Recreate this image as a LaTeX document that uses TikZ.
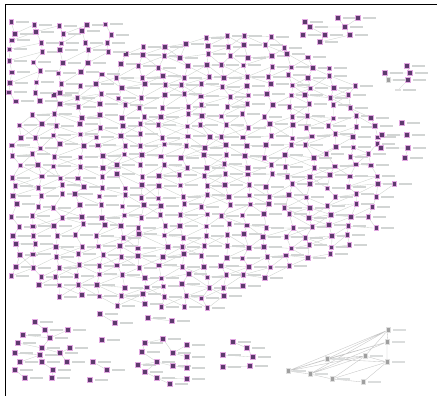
\documentclass[tikz,border=0pt]{standalone}
\definecolor{npurple}{HTML}{5E3A6E}
\definecolor{nhalo}{HTML}{E2A8E2}
\definecolor{egray}{HTML}{CDD2CD}
\definecolor{lgray}{HTML}{D2D5D4}
\pgfdeclarelayer{bg}
\pgfsetlayers{bg,main}
\tikzset{
  gnode/.style={rectangle, inner sep=0pt, minimum width=4.4pt, minimum height=4.8pt, fill=npurple, draw=nhalo, line width=0.8pt},
  grnode/.style={rectangle, inner sep=0pt, minimum width=4pt, minimum height=4.4pt, fill=gray!75, draw=gray!25, line width=0.8pt},
  lbl/.style={rectangle, fill=lgray, inner sep=0pt, minimum width=13pt, minimum height=2pt, anchor=west},
  edge/.style={draw=egray, line width=0.35pt},
}
\def\mainrows{36/9/12, 46/6/13, 56/5/14, 66/5/15, 76/4/15, 86/3/16, 96/2/16, 106/2/16, 116/1/17, 126/0/17,
  136/0/17, 146/0/17, 156/0/17, 166/0/17, 176/0/17, 186/0/18, 196/0/17, 206/0/17, 216/0/17,
  226/0/17, 236/0/16, 246/0/16, 256/0/15, 266/0/13, 276/0/12, 286/1/11, 296/2/10, 306/5/9}
\def\tlrows{24/0/4, 33/0/4, 42/0/4, 51/0/4, 61/0/3, 72/0/3, 83/0/2, 93/0/2, 103/0/1}
\begin{document}
\begin{tikzpicture}[x=1pt,y=-1pt]
\pgfmathsetseed{4242}
\useasboundingbox (0,0) rectangle (437,396);
\draw[line width=1pt] (5,396) -- (5,5) -- (437,5);
% main blob nodes
\foreach \yy/\a/\b [count=\r] in \mainrows {
  \foreach \c in {\a,...,\b}{
    \pgfmathsetmacro\xx{16+\c*21+5*rand}
    \pgfmathsetmacro\yj{\yy+2.5*rand}
    \node[gnode] (m-\r-\c) at (\xx,\yj) {};
    \node[lbl] at ([xshift=2pt]m-\r-\c.east) {};
  }
}
% top-left cluster nodes
\foreach \yy/\a/\b [count=\r] in \tlrows {
  \foreach \c in {\a,...,\b}{
    \pgfmathsetmacro\xx{14+\c*24+5*rand}
    \pgfmathsetmacro\yj{\yy+2*rand}
    \node[gnode] (t-\r-\c) at (\xx,\yj) {};
    \node[lbl] at ([xshift=2pt]t-\r-\c.east) {};
  }
}
% top-right cluster
\foreach \x/\y [count=\i] in {305/22, 338/18, 358/18, 310/27, 345/27, 303/35, 325/35, 350/35, 320/42}{
  \node[gnode] (q-\i) at (\x,\y) {};
  \node[lbl] at ([xshift=2pt]q-\i.east) {};
}
% far right cluster
\foreach \x/\y [count=\i] in {407/66, 385/73, 410/73, 408/80}{
  \node[gnode] (f-\i) at (\x,\y) {};
  \node[lbl] at ([xshift=2pt]f-\i.east) {};
}
\node[grnode] (f-5) at (388,80) {};
\node[lbl] at ([xshift=2pt]f-5.east) {};
\node[grnode, minimum width=5pt, minimum height=1.5pt] (f-6) at (398,90) {};
\node[lbl] at ([xshift=2pt]f-6.east) {};
% right scattered
\foreach \x/\y [count=\i] in {402/123, 382/135, 407/135, 381/148, 408/148, 405/158}{
  \node[gnode] (s-\i) at (\x,\y) {};
  \node[lbl] at ([xshift=2pt]s-\i.east) {};
}
% bottom-left cluster
\foreach \x/\y [count=\i] in {35/322, 45/330, 68/330, 23/335, 50/338, 18/343, 42/348, 70/348, 60/353,
  15/353, 40/355, 20/362, 42/362, 67/362, 15/370, 53/370, 25/378, 52/378}{
  \node[gnode] (b-\i) at (\x,\y) {};
  \node[lbl] at ([xshift=2pt]b-\i.east) {};
}
% bottom middle cluster 1
\foreach \x/\y [count=\i] in {100/314, 115/323, 102/340, 93/362, 107/370, 90/380}{
  \node[gnode] (c-\i) at (\x,\y) {};
  \node[lbl] at ([xshift=2pt]c-\i.east) {};
}
% bottom middle cluster 2
\foreach \x/\y [count=\i] in {148/318, 172/321, 163/339, 145/343, 142/352, 173/353, 187/345, 187/357,
  138/365, 157/362, 173/366, 145/372, 187/368, 157/378, 187/379, 170/384}{
  \node[gnode] (d-\i) at (\x,\y) {};
  \node[lbl] at ([xshift=2pt]d-\i.east) {};
}
% bottom cluster 3
\foreach \x/\y [count=\i] in {233/342, 247/348, 223/355, 253/357, 223/367, 250/366}{
  \node[gnode] (e-\i) at (\x,\y) {};
  \node[lbl] at ([xshift=2pt]e-\i.east) {};
}
% bottom-right gray graph
\foreach \x/\y [count=\i] in {388/330, 387/342, 365/356, 327/359, 387/362, 288/371, 310/374, 332/379, 363/382}{
  \node[grnode] (g-\i) at (\x,\y) {};
  \node[lbl, fill=lgray!80] at ([xshift=2pt]g-\i.east) {};
}
% ---------------- edges (one background layer) ----------------
\begin{pgfonlayer}{bg}
\fill[white] (0,0) rectangle (437,396);
\foreach \yy/\a/\b [count=\r, remember=\a as \pa (initially 99), remember=\b as \pb (initially -1)] in \mainrows {
  \pgfmathtruncatemacro\pr{\r-1}
  \foreach \c in {\a,...,\b}{
    \pgfmathtruncatemacro\cn{\c+1}
    \pgfmathtruncatemacro\cm{\c-1}
    \ifnum\r>1
      \ifnum\c<\pa\else\ifnum\c>\pb\else \draw[edge] (m-\r-\c) -- (m-\pr-\c); \fi\fi
      \pgfmathtruncatemacro\coin{rnd<0.55}
      \ifnum\coin=1
        \ifnum\cn<\pa\else\ifnum\cn>\pb\else \draw[edge] (m-\r-\c) -- (m-\pr-\cn); \fi\fi
      \fi
      \pgfmathtruncatemacro\coinb{rnd<0.35}
      \ifnum\coinb=1
        \ifnum\cm<\pa\else\ifnum\cm>\pb\else \draw[edge] (m-\r-\c) -- (m-\pr-\cm); \fi\fi
      \fi
    \fi
    \pgfmathtruncatemacro\coinc{rnd<0.4}
    \ifnum\c>\a \ifnum\coinc=1 \draw[edge] (m-\r-\c) -- (m-\r-\cm); \fi\fi
  }
}
\foreach \yy/\a/\b [count=\r, remember=\a as \pa (initially 99), remember=\b as \pb (initially -1)] in \tlrows {
  \pgfmathtruncatemacro\pr{\r-1}
  \foreach \c in {\a,...,\b}{
    \pgfmathtruncatemacro\cn{\c+1}
    \ifnum\r>1
      \ifnum\c<\pa\else\ifnum\c>\pb\else \draw[edge] (t-\r-\c) -- (t-\pr-\c); \fi\fi
      \pgfmathtruncatemacro\coin{rnd<0.5}
      \ifnum\coin=1
        \ifnum\cn<\pa\else\ifnum\cn>\pb\else \draw[edge] (t-\r-\c) -- (t-\pr-\cn); \fi\fi
      \fi
    \fi
  }
}
\draw[edge] (q-1) -- (q-4) (q-4) -- (q-7) (q-2) -- (q-5) (q-3) -- (q-5) (q-5) -- (q-8)
  (q-6) -- (q-7) (q-7) -- (q-9) (q-8) -- (q-9) (q-4) -- (q-5);
\draw[edge] (f-1) -- (f-3) (f-2) -- (f-3) (f-3) -- (f-4) (f-5) -- (f-4) (f-4) -- (f-6) (f-2) -- (f-5);
\draw[edge] (s-2) -- (s-3) (s-4) -- (s-5) (s-5) -- (s-6);
\draw[edge] (b-1) -- (b-2) (b-2) -- (b-5) (b-3) -- (b-5) (b-4) -- (b-5) (b-5) -- (b-7) (b-6) -- (b-7)
  (b-7) -- (b-9) (b-8) -- (b-9) (b-10) -- (b-11) (b-7) -- (b-11) (b-11) -- (b-13) (b-12) -- (b-13)
  (b-9) -- (b-14) (b-13) -- (b-16) (b-15) -- (b-17) (b-16) -- (b-18) (b-11) -- (b-12) (b-2) -- (b-3);
\draw[edge] (c-1) -- (c-2) (c-4) -- (c-5);
\draw[edge] (d-1) -- (d-2) (d-3) -- (d-4) (d-4) -- (d-5) (d-3) -- (d-6) (d-6) -- (d-7) (d-6) -- (d-8)
  (d-5) -- (d-10) (d-9) -- (d-10) (d-10) -- (d-11) (d-11) -- (d-13) (d-10) -- (d-12) (d-12) -- (d-14)
  (d-14) -- (d-15) (d-14) -- (d-16) (d-8) -- (d-13);
\draw[edge] (e-1) -- (e-2) (e-3) -- (e-4) (e-5) -- (e-6) (e-2) -- (e-4);
\draw[edge, draw=gray!45] (g-6) -- (g-4) (g-6) -- (g-3) (g-6) -- (g-1) (g-7) -- (g-3) (g-7) -- (g-2)
  (g-4) -- (g-3) (g-4) -- (g-1) (g-4) -- (g-2) (g-3) -- (g-1) (g-3) -- (g-5) (g-8) -- (g-3)
  (g-9) -- (g-5) (g-2) -- (g-1) (g-5) -- (g-2) (g-6) -- (g-7) (g-7) -- (g-8) (g-8) -- (g-9)
  (g-6) -- (g-2) (g-7) -- (g-1) (g-4) -- (g-5) (g-8) -- (g-5);
\end{pgfonlayer}
\end{tikzpicture}
\end{document}
